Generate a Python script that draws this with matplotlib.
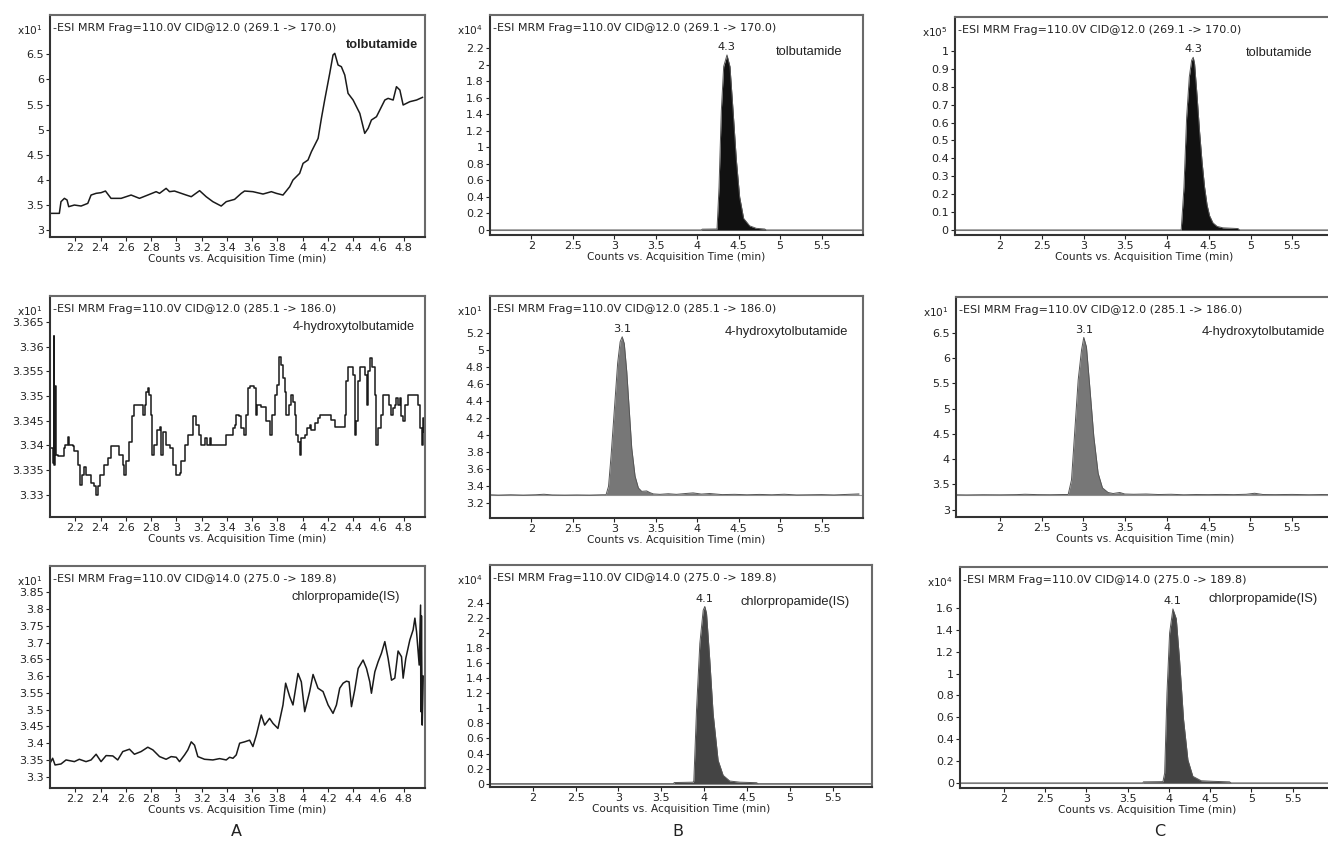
import matplotlib
matplotlib.use("Agg")
import matplotlib.pyplot as plt
from matplotlib.ticker import FuncFormatter

plt.rcParams['font.family'] = ['DejaVu Sans']

# ---------------- data ----------------
# Column A (blank) traces
a1_t = [2.008, 2.074, 2.087, 2.114, 2.135, 2.148, 2.193, 2.246, 2.299, 2.325, 2.365, 2.404, 2.439,
        2.483, 2.563, 2.642, 2.708, 2.774, 2.840, 2.867, 2.919, 2.946, 2.985, 3.078, 3.118, 3.184,
        3.236, 3.289, 3.355, 3.395, 3.461, 3.514, 3.540, 3.606, 3.686, 3.752, 3.791, 3.844, 3.897,
        3.923, 3.976, 4.003, 4.042, 4.069, 4.122, 4.148, 4.174, 4.214, 4.240, 4.254, 4.280, 4.306,
        4.333, 4.359, 4.399, 4.452, 4.491, 4.518, 4.544, 4.584, 4.650, 4.676, 4.716, 4.742, 4.769,
        4.795, 4.848, 4.901, 4.948]
a1_y = [3.332, 3.332, 3.565, 3.631, 3.598, 3.465, 3.498, 3.478, 3.531, 3.697, 3.731, 3.744, 3.777,
        3.631, 3.631, 3.697, 3.631, 3.697, 3.764, 3.731, 3.830, 3.764, 3.777, 3.697, 3.664, 3.784,
        3.664, 3.565, 3.478, 3.565, 3.611, 3.731, 3.777, 3.764, 3.717, 3.764, 3.731, 3.697, 3.863,
        3.996, 4.129, 4.328, 4.395, 4.561, 4.826, 5.225, 5.590, 6.121, 6.487, 6.520, 6.288, 6.254,
        6.088, 5.723, 5.590, 5.324, 4.926, 5.026, 5.192, 5.258, 5.590, 5.623, 5.590, 5.856, 5.789,
        5.491, 5.557, 5.590, 5.643]

a2_t = [2.008, 2.021, 2.029, 2.034, 2.042, 2.050, 2.061, 2.100, 2.108, 2.119, 2.140, 2.153, 2.180,
        2.193, 2.219, 2.238, 2.251, 2.272, 2.285, 2.312, 2.325, 2.346, 2.365, 2.378, 2.399, 2.431,
        2.457, 2.483, 2.523, 2.550, 2.576, 2.589, 2.602, 2.629, 2.647, 2.668, 2.721, 2.734, 2.748,
        2.761, 2.774, 2.787, 2.801, 2.806, 2.827, 2.848, 2.867, 2.880, 2.893, 2.919, 2.946, 2.972,
        2.999, 3.025, 3.038, 3.065, 3.091, 3.118, 3.131, 3.157, 3.176, 3.197, 3.223, 3.244, 3.263,
        3.276, 3.382, 3.395, 3.421,
        3.448, 3.461, 3.474, 3.495, 3.514, 3.532, 3.553, 3.567, 3.585, 3.612, 3.627, 3.638, 3.672,
        3.693, 3.712, 3.738, 3.759, 3.778, 3.796, 3.812, 3.826, 3.844, 3.857, 3.870, 3.892, 3.905,
        3.923, 3.937, 3.950, 3.963, 3.976, 3.989, 4.016, 4.034, 4.055, 4.069, 4.095, 4.121, 4.135,
        4.174, 4.214, 4.227, 4.254, 4.333, 4.346, 4.359, 4.386, 4.399, 4.412, 4.425, 4.439, 4.452,
        4.478, 4.491, 4.505, 4.518, 4.531, 4.552, 4.570, 4.584, 4.597, 4.616, 4.637, 4.663, 4.684,
        4.695, 4.716, 4.729, 4.742, 4.755, 4.769, 4.782, 4.795, 4.808, 4.835, 4.874, 4.901, 4.914,
        4.927, 4.941, 4.949, 4.959]
a2_y = [3.3395, 3.3364, 3.3621, 3.3361, 3.3520, 3.3381, 3.3378, 3.3378, 3.3395, 3.3401, 3.3418,
        3.3401, 3.3398, 3.3388, 3.3361, 3.3320, 3.3341, 3.3357, 3.3341, 3.3341, 3.3324, 3.3317,
        3.3300, 3.3317, 3.3341, 3.3361, 3.3374, 3.3398, 3.3398, 3.3381, 3.3361, 3.3341, 3.3368,
        3.3408, 3.3459, 3.3482, 3.3482, 3.3462, 3.3482, 3.3509, 3.3516, 3.3503, 3.3462, 3.3381,
        3.3401, 3.3432, 3.3438, 3.3381, 3.3428, 3.3401, 3.3395, 3.3361, 3.3341, 3.3344, 3.3368,
        3.3401, 3.3422, 3.3422, 3.3459, 3.3442, 3.3422, 3.3401, 3.3415, 3.3401, 3.3415, 3.3401,
        3.3401, 3.3422, 3.3422,
        3.3435, 3.3442, 3.3462, 3.3459, 3.3435, 3.3422, 3.3462, 3.3516, 3.3520, 3.3516, 3.3462,
        3.3482, 3.3479, 3.3479, 3.3449, 3.3422, 3.3462, 3.3503, 3.3523, 3.3580, 3.3563, 3.3536,
        3.3509, 3.3462, 3.3482, 3.3503, 3.3489, 3.3462, 3.3422, 3.3408, 3.3381, 3.3415, 3.3422,
        3.3435, 3.3442, 3.3432, 3.3445, 3.3455, 3.3462, 3.3462, 3.3462, 3.3452, 3.3438, 3.3462,
        3.3530, 3.3560, 3.3560, 3.3543, 3.3422, 3.3449, 3.3530, 3.3560, 3.3560, 3.3543, 3.3482,
        3.3550, 3.3577, 3.3560, 3.3503, 3.3401, 3.3435, 3.3462, 3.3503, 3.3503, 3.3482, 3.3462,
        3.3476, 3.3482, 3.3496, 3.3482, 3.3496, 3.3459, 3.3449, 3.3482, 3.3503, 3.3503, 3.3503,
        3.3482, 3.3435, 3.3401, 3.3455, 3.3428]

a3_t = [2.000, 2.021, 2.040, 2.087, 2.127, 2.193, 2.232, 2.285, 2.325, 2.365, 2.404, 2.444, 2.497,
        2.536, 2.576, 2.629, 2.668, 2.721, 2.774, 2.814, 2.867, 2.919, 2.959, 2.999, 3.025, 3.065,
        3.091, 3.118, 3.144, 3.170, 3.223, 3.289, 3.342, 3.395, 3.421,
        3.448, 3.474, 3.501, 3.540, 3.580, 3.606, 3.633, 3.672, 3.699, 3.738, 3.765, 3.804, 3.844,
        3.865, 3.897, 3.923, 3.963, 3.989, 4.016, 4.055, 4.082, 4.121, 4.161, 4.201, 4.240, 4.267,
        4.293, 4.320, 4.346, 4.367, 4.386, 4.412, 4.439, 4.478, 4.505, 4.531, 4.544, 4.571, 4.597,
        4.623, 4.650, 4.676, 4.703, 4.729, 4.755, 4.782, 4.795, 4.816, 4.848, 4.874, 4.888, 4.901,
        4.922, 4.933, 4.935, 4.940, 4.946, 4.954]
a3_y = [3.340, 3.355, 3.335, 3.338, 3.350, 3.345, 3.352, 3.345, 3.350, 3.367, 3.345, 3.363, 3.362,
        3.350, 3.375, 3.382, 3.367, 3.375, 3.388, 3.380, 3.360, 3.352, 3.360, 3.358, 3.345, 3.365,
        3.380, 3.404, 3.394, 3.360, 3.352, 3.350, 3.354, 3.350, 3.358,
        3.355, 3.365, 3.400, 3.404, 3.409, 3.390, 3.424, 3.484, 3.454, 3.474, 3.459, 3.444, 3.514,
        3.579, 3.539, 3.514, 3.608, 3.583, 3.494, 3.554, 3.605, 3.564, 3.554, 3.514, 3.489, 3.514,
        3.564, 3.579, 3.585, 3.583, 3.509, 3.559, 3.623, 3.648, 3.623, 3.583, 3.549, 3.613, 3.643,
        3.668, 3.703, 3.653, 3.588, 3.594, 3.675, 3.658, 3.594, 3.653, 3.708, 3.738, 3.773, 3.733,
        3.633, 3.812, 3.494, 3.780, 3.454, 3.600]

# Column B traces
b1_t = [1.50, 4.05, 4.06, 4.239, 4.263, 4.291, 4.319, 4.359, 4.395, 4.432, 4.472, 4.512, 4.560,
        4.633, 4.713, 4.813, 4.833, 6.00]
b1_y = [0, 0, 0.01, 0.012, 0.52, 1.45, 1.98, 2.12, 1.98, 1.45, 0.85, 0.40, 0.14, 0.05, 0.02,
        0.012, 0, 0]

b2_t = [1.50, 1.60, 1.75, 1.90, 2.05, 2.15, 2.25, 2.40, 2.55, 2.70, 2.85, 2.90, 2.93, 2.96, 3.00,
        3.04, 3.07, 3.095, 3.12, 3.15, 3.18, 3.21, 3.25, 3.29, 3.33, 3.39, 3.43, 3.47, 3.55, 3.65,
        3.75, 3.85, 3.95, 4.05, 4.15, 4.30, 4.45, 4.60, 4.75, 4.90, 5.05, 5.20, 5.35, 5.50, 5.65,
        5.80, 5.95]
b2_y = [3.300, 3.296, 3.300, 3.296, 3.300, 3.306, 3.298, 3.296, 3.298, 3.296, 3.300, 3.300, 3.40,
        3.75, 4.30, 4.85, 5.10, 5.16, 5.08, 4.75, 4.30, 3.85, 3.52, 3.38, 3.34, 3.345, 3.325, 3.310,
        3.305, 3.312, 3.305, 3.314, 3.322, 3.308, 3.315, 3.302, 3.305, 3.300, 3.304, 3.300, 3.306,
        3.298, 3.300, 3.302, 3.298, 3.304, 3.310]

b3_t = [1.50, 3.64, 3.65, 3.87, 3.878, 3.909, 3.948, 3.987, 4.006, 4.026, 4.064, 4.103, 4.161,
        4.22, 4.297, 4.414, 4.608, 4.627, 5.96]
b3_y = [0, 0, 0.015, 0.02, 0.04, 0.97, 1.86, 2.30, 2.35, 2.26, 1.64, 0.93, 0.31, 0.11, 0.035,
        0.02, 0.013, 0, 0]

# Column C traces
c1_t = [1.46, 4.17, 4.203, 4.235, 4.267, 4.295, 4.314, 4.33, 4.36, 4.39, 4.42, 4.45, 4.48, 4.51,
        4.55, 4.60, 4.67, 4.85, 4.87, 6.0]
c1_y = [0, 0, 0.24, 0.63, 0.855, 0.948, 0.965, 0.93, 0.75, 0.55, 0.38, 0.24, 0.14, 0.08, 0.04,
        0.02, 0.012, 0.008, 0, 0]

c2_t = [1.474, 1.60, 1.80, 2.00, 2.20, 2.30, 2.45, 2.60, 2.75, 2.817, 2.857, 2.897, 2.937, 2.977,
        3.004, 3.036, 3.076, 3.124, 3.176, 3.228, 3.295, 3.355, 3.435, 3.495, 3.60, 3.75, 3.90,
        4.05, 4.20, 4.35, 4.50, 4.65, 4.80, 4.95, 5.05, 5.15, 5.30, 5.50, 5.70, 5.85, 6.00]
c2_y = [3.295, 3.292, 3.296, 3.294, 3.298, 3.305, 3.298, 3.296, 3.300, 3.300, 3.59, 4.58, 5.57,
        6.16, 6.41, 6.22, 5.43, 4.45, 3.72, 3.43, 3.34, 3.32, 3.34, 3.31, 3.305, 3.310, 3.300,
        3.305, 3.295, 3.300, 3.298, 3.302, 3.298, 3.305, 3.325, 3.300, 3.298, 3.302, 3.296, 3.300,
        3.298]

c3_t = [1.468, 3.685, 3.69, 3.927, 3.948, 3.976, 4.008, 4.048, 4.089, 4.129, 4.177, 4.23, 4.29,
        4.391, 4.532, 4.734, 4.754, 6.0]
c3_y = [0, 0, 0.01, 0.012, 0.09, 0.82, 1.37, 1.59, 1.50, 1.12, 0.58, 0.21, 0.06, 0.02, 0.015,
        0.01, 0, 0]

# Labels
headers = ["-ESI MRM Frag=110.0V CID@12.0 (269.1 -> 170.0)",
           "-ESI MRM Frag=110.0V CID@12.0 (285.1 -> 186.0)",
           "-ESI MRM Frag=110.0V CID@14.0 (275.0 -> 189.8)"]
compounds = ["tolbutamide", "4-hydroxytolbutamide", "chlorpropamide(IS)"]
peak_labels = ["4.3", "3.1", "4.1"]
exponents = [["1", "4", "5"], ["1", "1", "1"], ["1", "4", "4"]]
column_letters = ["A", "B", "C"]
xlabel = "Counts vs. Acquisition Time (min)"

a_xticks = [2.2, 2.4, 2.6, 2.8, 3.0, 3.2, 3.4, 3.6, 3.8, 4.0, 4.2, 4.4, 4.6, 4.8]
bc_xticks = [2, 2.5, 3, 3.5, 4, 4.5, 5, 5.5]
yticks = {
    (0, 0): [3, 3.5, 4, 4.5, 5, 5.5, 6, 6.5],
    (1, 0): [3.33, 3.335, 3.34, 3.345, 3.35, 3.355, 3.36, 3.365],
    (2, 0): [3.3, 3.35, 3.4, 3.45, 3.5, 3.55, 3.6, 3.65, 3.7, 3.75, 3.8, 3.85],
    (0, 1): [0, 0.2, 0.4, 0.6, 0.8, 1, 1.2, 1.4, 1.6, 1.8, 2, 2.2],
    (1, 1): [3.2, 3.4, 3.6, 3.8, 4, 4.2, 4.4, 4.6, 4.8, 5, 5.2],
    (2, 1): [0, 0.2, 0.4, 0.6, 0.8, 1, 1.2, 1.4, 1.6, 1.8, 2, 2.2, 2.4],
    (0, 2): [0, 0.1, 0.2, 0.3, 0.4, 0.5, 0.6, 0.7, 0.8, 0.9, 1],
    (1, 2): [3, 3.5, 4, 4.5, 5, 5.5, 6, 6.5],
    (2, 2): [0, 0.2, 0.4, 0.6, 0.8, 1, 1.2, 1.4, 1.6],
}

# ---------------- layout (pixels: left, right, top, bottom) ----------------
W, H = 1328, 843
boxes = {
    (0, 0): (50, 425, 15, 237), (1, 0): (50, 425, 296, 517), (2, 0): (50, 425, 566, 788),
    (0, 1): (490, 863, 15, 235), (1, 1): (490, 863, 296, 517.7), (2, 1): (490, 872, 565, 787),
    (0, 2): (955, 1334, 17, 235), (1, 2): (956, 1334, 297, 517), (2, 2): (960, 1334, 567, 788),
}
xlims = {
    (0, 0): (2.0, 4.968), (1, 0): (2.0, 4.968), (2, 0): (2.0, 4.968),
    (0, 1): (1.5, 6.0), (1, 1): (1.5, 6.0), (2, 1): (1.503, 5.954),
    (0, 2): (1.461, 6.0), (1, 2): (1.474, 6.0), (2, 2): (1.468, 6.0),
}
ylims = {
    (0, 0): (2.861, 7.284), (1, 0): (3.3255, 3.3703), (2, 0): (3.2663, 3.9286),
    (0, 1): (-0.0606, 2.604), (1, 1): (3.03, 5.64), (2, 1): (-0.044, 2.90),
    (0, 2): (-0.028, 1.19), (1, 2): (2.855, 7.21), (2, 2): (-0.046, 1.973),
}
comp_pos = {  # right edge of compound text in px, centre y in px
    (0, 0): (418, 45), (1, 0): (415, 327), (2, 0): (400, 597),
    (0, 1): (842, 52), (1, 1): (848, 332), (2, 1): (850, 602),
    (0, 2): (1312, 53), (1, 2): (1325, 332), (2, 2): (1318, 599),
}
fill_colors = ["#111111", "#777777", "#444444"]
traces_a = [(a1_t, a1_y), (a2_t, a2_y), (a3_t, a3_y)]
traces_b = [(b1_t, b1_y), (b2_t, b2_y), (b3_t, b3_y)]
traces_c = [(c1_t, c1_y), (c2_t, c2_y), (c3_t, c3_y)]

fig = plt.figure(figsize=(W / 100, H / 100), dpi=100)
fmt = FuncFormatter(lambda v, p: f"{round(v, 4):g}")
TXT = '#222222'

for r in range(3):
    for c in range(3):
        l, rt, t, b = boxes[(r, c)]
        ax = fig.add_axes([l / W, 1 - b / H, (rt - l) / W, (b - t) / H])
        ax.set_xlim(*xlims[(r, c)])
        ax.set_ylim(*ylims[(r, c)])
        ax.set_xticks(a_xticks if c == 0 else bc_xticks)
        ax.set_yticks(yticks[(r, c)])
        ax.xaxis.set_major_formatter(fmt)
        ax.yaxis.set_major_formatter(fmt)
        ax.tick_params(direction='out', length=3, width=0.8, labelsize=8.0, pad=1.5,
                       colors=TXT)
        for s in ax.spines.values():
            s.set_color('#6a6a6a')
            s.set_linewidth(1.5)
        ax.spines['left'].set_color('#333333')
        ax.spines['bottom'].set_color('#333333')
        ax.set_xlabel(xlabel, fontsize=7.6, labelpad=0.5, color=TXT)

        if c == 0:
            tt, yy = traces_a[r]
            ds = 'steps-post' if r == 1 else 'default'
            ax.plot(tt, yy, color='#1a1a1a', lw=1.1, drawstyle=ds)
        else:
            tt, yy = (traces_b if c == 1 else traces_c)[r]
            base = yy[0]
            ax.fill_between(tt, base, yy, color=fill_colors[r], lw=0)
            ax.plot(tt, yy, color='#555555', lw=0.7)
            ax.axhline(base, color='#999999', lw=0.8, zorder=0)
            k = max(range(len(yy)), key=lambda i: yy[i])
            ax.annotate(peak_labels[r], (tt[k], yy[k]), xytext=(0, 2),
                        textcoords='offset points', ha='center', va='bottom',
                        fontsize=8.2, color=TXT)

        # header and compound label
        ax.text(3 / (rt - l), 1 - 13 / (b - t), headers[r], transform=ax.transAxes,
                fontsize=8.0, va='center', ha='left', color=TXT)
        cx, cy = comp_pos[(r, c)]
        bold = (c == 0 and r == 0)
        fig.text(cx / W, 1 - cy / H, compounds[r], fontsize=9.3 if c else 9.2,
                 family='Liberation Sans', ha='right', va='center',
                 color=TXT, fontweight='bold' if bold else 'normal')
        # multiplier
        fig.text((l - 7) / W, 1 - (t + 15) / H, r"x10$^{%s}$" % exponents[r][c],
                 fontsize=7.6, ha='right', va='center', color=TXT)

for c, lx in enumerate([236, 678, 1160]):
    fig.text(lx / W, 1 - 832 / H, column_letters[c], fontsize=11.5, ha='center', va='center',
             color=TXT)

fig.savefig("out.png", dpi=100)
